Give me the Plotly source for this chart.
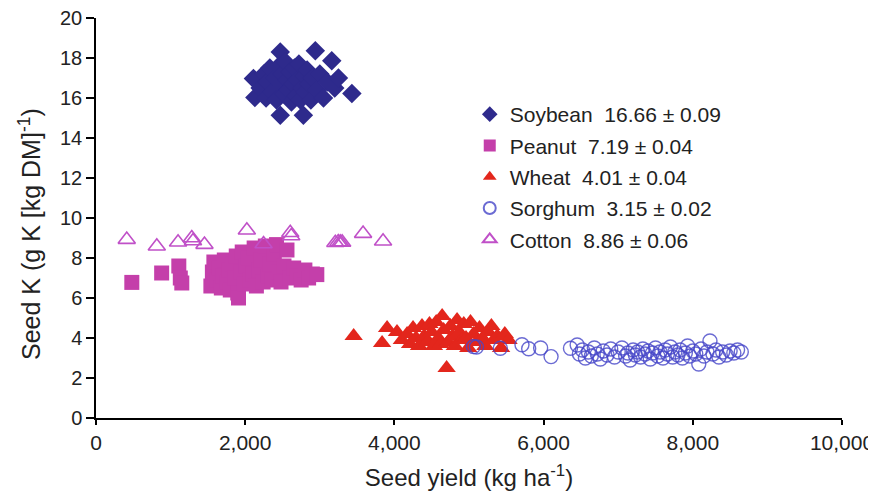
import plotly.graph_objects as go

# ---------------- data ----------------
soy_x = [2110, 2130, 2200, 2250, 2280, 2300, 2330, 2360, 2400, 2420, 2450, 2470, 2470, 2490, 2500,
         2520, 2540, 2560, 2580, 2600, 2620, 2640, 2660, 2680, 2700, 2720, 2740, 2760, 2780, 2790,
         2800, 2830, 2860, 2880, 2900, 2940, 2960, 3000, 3050, 3100, 3160, 3200, 3250, 3430]
soy_y = [16.98, 16.02, 16.5, 17.2, 16.0, 16.8, 17.5, 16.3, 17.0, 15.9, 17.6, 18.3, 15.14, 16.6, 17.2,
         16.2, 17.8, 16.9, 16.4, 17.3, 15.8, 16.7, 17.5, 16.1, 16.9, 17.7, 15.9, 16.5, 15.14, 17.1,
         16.3, 17.4, 16.7, 15.9, 17.0, 18.36, 16.4, 17.2, 16.0, 16.8, 17.86, 16.5, 17.0, 16.22]

pea_x = [480, 880, 1110, 1130, 1150, 1540, 1560, 1580, 1620, 1650, 1680, 1700, 1720, 1750, 1780,
         1800, 1830, 1860, 1880, 1900, 1910, 1940, 1960, 1990, 2010, 2040, 2070, 2100, 2120, 2150,
         2180, 2210, 2240, 2270, 2300, 2330, 2360, 2390, 2420, 2450, 2480, 2520, 2560, 2600, 2650,
         2700, 2750, 2800, 2850, 2900, 2960]
pea_y = [6.78, 7.25, 7.6, 7.0, 6.75, 6.6, 7.3, 7.8, 6.9, 7.5, 6.5, 7.1, 7.9, 6.8, 7.4,
         6.4, 7.7, 7.0, 8.1, 6.25, 6.0, 7.3, 8.3, 6.7, 7.6, 8.0, 6.9, 7.2, 8.5, 6.6,
         7.4, 7.9, 6.8, 8.6, 7.1, 7.7, 6.9, 8.2, 8.67, 7.3, 6.8, 7.6, 8.4, 7.0, 7.5,
         7.1, 6.9, 7.4, 7.0, 7.2, 7.17]

wht_x = [3454, 3835, 3902, 4035, 4100, 4170, 4210, 4250, 4290, 4330, 4370, 4400, 4440, 4470, 4500,
         4530, 4560, 4590, 4620, 4640, 4660, 4700, 4720, 4750, 4780, 4810, 4840, 4870, 4900, 4930,
         4960, 4990, 5020, 5060, 5100, 5140, 5180, 5220, 5260, 5300, 5330, 5380, 5430, 5480, 5530]
wht_y = [4.1, 3.75, 4.5, 4.3, 3.9, 4.2, 3.7, 4.5, 4.0, 3.6, 4.6, 4.1, 3.8, 4.7, 4.3,
         3.6, 4.8, 4.0, 3.7, 5.1, 4.4, 2.5, 3.8, 4.6, 4.1, 3.6, 4.9, 4.3, 3.9, 4.7,
         4.0, 3.5, 4.8, 4.2, 3.8, 4.5, 4.0, 3.6, 4.3, 4.6, 3.9, 4.1, 3.5, 4.2, 3.9]

sor_x = [5060, 5100, 5420, 5710, 5800, 5960, 6100, 6360, 6450, 6480, 6520, 6560, 6600, 6640, 6680,
         6720, 6760, 6800, 6850, 6900, 6950, 7000, 7050, 7100, 7130, 7160, 7200, 7230, 7260, 7300,
         7330, 7360, 7400, 7430, 7460, 7500, 7530, 7560, 7600, 7630, 7660, 7700, 7730, 7760, 7800,
         7830, 7860, 7900, 7930, 7960, 8000, 8040, 8080, 8110, 8150, 8190, 8230, 8270, 8310, 8350,
         8400, 8450, 8500, 8550, 8600, 8650]
sor_y = [3.57, 3.55, 3.49, 3.66, 3.46, 3.5, 3.07, 3.49, 3.65, 3.2, 3.4, 3.0, 3.3, 3.1, 3.5,
         3.2, 2.95, 3.35, 3.15, 3.45, 3.05, 3.3, 3.5, 3.1, 3.25, 2.9, 3.4, 3.15, 3.3, 3.05,
         3.45, 3.2, 3.35, 2.95, 3.25, 3.5, 3.1, 3.3, 3.0, 3.4, 3.2, 3.55, 3.05, 3.3, 3.15,
         3.4, 3.0, 3.25, 3.6, 3.1, 3.35, 3.2, 2.7, 3.45, 3.1, 3.3, 3.85, 3.2, 3.4, 3.05,
         3.3, 3.15, 3.35, 3.25, 3.4, 3.3]

cot_x = [412, 815, 1100, 1284, 1300, 1454, 2022, 2246, 2604, 2617, 3208, 3248, 3275, 3300, 3580, 3848]
cot_y = [8.92, 8.59, 8.79, 9.0, 8.85, 8.67, 9.39, 8.70, 9.26, 9.1, 8.76, 8.8, 8.78, 8.78, 9.22, 8.84]

series_names = ["Soybean  16.66 ± 0.09", "Peanut  7.19 ± 0.04", "Wheat  4.01 ± 0.04",
                "Sorghum  3.15 ± 0.02", "Cotton  8.86 ± 0.06"]

x_ticks = [0, 2000, 4000, 6000, 8000, 10000]
x_tick_labels = ["0", "2,000", "4,000", "6,000", "8,000", "10,000"]
y_ticks = [0, 2, 4, 6, 8, 10, 12, 14, 16, 18, 20]
y_tick_labels = [str(v) for v in y_ticks]

x_title = "Seed yield (kg ha<sup>-1</sup>)"
y_title = "Seed K (g K [kg DM]<sup>-1</sup>)"

# ---------------- figure ----------------
FONT = "Liberation Sans, Arial, sans-serif"
fig = go.Figure()
fig.add_trace(go.Scatter(x=soy_x, y=soy_y, mode="markers", name=series_names[0], legendgroup="a",
                         marker=dict(symbol="diamond", size=15, color="#2E2A8C", line=dict(width=0))))
fig.add_trace(go.Scatter(x=pea_x, y=pea_y, mode="markers", name=series_names[1], legendgroup="b",
                         marker=dict(symbol="square", size=15, color="#C43FAA", line=dict(width=0))))
fig.add_trace(go.Scatter(x=wht_x, y=wht_y, mode="markers", name=series_names[2], legendgroup="c",
                         marker=dict(symbol="triangle-up", size=16, color="#E3261C", line=dict(width=0))))
fig.add_trace(go.Scatter(x=sor_x, y=sor_y, mode="markers", name=series_names[3], legendgroup="d",
                         marker=dict(symbol="circle-open", size=14, color="rgba(70,70,200,0.8)",
                                     line=dict(width=1.4))))
fig.add_trace(go.Scatter(x=cot_x, y=cot_y, mode="markers", name=series_names[4], legendgroup="e",
                         marker=dict(symbol="triangle-up-open", size=15, color="#C050C8",
                                     line=dict(width=1.6))))

# page body has an 8px margin, so the figure is sized to fit inside the window
fig.update_layout(
    width=868, height=484,
    margin=dict(l=88, r=34, t=10, b=74),
    paper_bgcolor="white", plot_bgcolor="white",
    font=dict(family=FONT, color="#222222"),
    showlegend=True,
    legend=dict(x=0.501, y=0.81, xanchor="left", yanchor="top",
                font=dict(family=FONT, size=21, color="#222222"),
                bgcolor="rgba(0,0,0,0)", tracegroupgap=1, itemsizing="constant"),
    xaxis=dict(range=[0, 10000], tickvals=x_ticks, ticktext=x_tick_labels, automargin=False,
               showgrid=False, zeroline=False, showline=True, linecolor="black", linewidth=1.5,
               ticks="outside", ticklen=5, tickwidth=1.5, tickcolor="black",
               ticklabeloverflow="allow",
               tickfont=dict(family=FONT, size=21, color="#222222"),
               title=dict(text=x_title, font=dict(family=FONT, size=24, color="#222222"), standoff=16)),
    yaxis=dict(range=[0, 20], tickvals=y_ticks, ticktext=y_tick_labels, automargin=False,
               showgrid=False, zeroline=False, showline=True, linecolor="black", linewidth=1.5,
               ticks="outside", ticklen=8, tickwidth=1.5, tickcolor="black",
               ticklabeloverflow="allow",
               tickfont=dict(family=FONT, size=20, color="#222222")),
    annotations=[dict(text=y_title, xref="paper", yref="paper", x=-0.0885, y=0.46,
                      xanchor="center", yanchor="middle", textangle=-90, showarrow=False,
                      font=dict(family=FONT, size=25, color="#222222"))],
)

fig.write_html("out.html")
